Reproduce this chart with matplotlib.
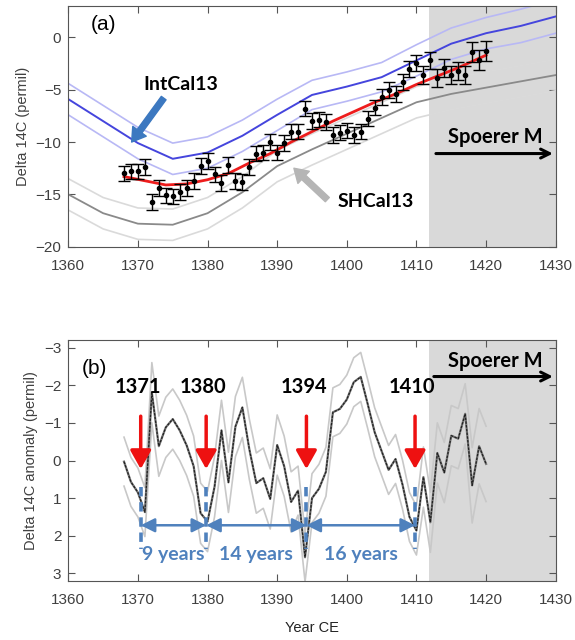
import numpy as np
import matplotlib
matplotlib.use("Agg")
import matplotlib.pyplot as plt

# --- DATA: panel (a) ---
cal_years = [1360, 1365, 1370, 1375, 1380, 1385, 1390, 1395, 1400, 1405, 1410, 1415, 1420, 1425, 1430]
intcal = [-5.9, -8.0, -10.1, -11.6, -11.0, -9.4, -7.4, -5.5, -4.7, -3.8, -2.2, -0.6, 0.4, 1.1, 2.0]
intcal_sig = [1.5, 1.5, 1.5, 1.5, 1.5, 1.5, 1.5, 1.4, 1.4, 1.4, 1.5, 1.5, 1.5, 1.6, 1.6]
shcal = [-15.0, -16.8, -17.8, -17.9, -16.8, -14.8, -12.3, -10.7, -9.2, -7.7, -6.2, -5.4, -4.8, -4.2, -3.6]
shcal_sig = [1.5, 1.5, 1.5, 1.5, 1.5, 1.5, 1.5, 1.5, 1.5, 1.5, 1.5, 1.5, 1.5, 1.5, 1.5]

fit_years = [1368, 1371, 1374, 1377, 1380, 1383, 1386, 1389, 1392, 1395, 1398, 1401, 1404, 1407, 1410, 1413, 1416, 1420]
fit_vals = [-13.3, -13.7, -14.1, -14.0, -13.6, -13.0, -12.0, -11.1, -10.0, -9.0, -8.0, -7.1, -6.2, -5.4, -4.5, -3.7, -2.9, -1.7]

years = list(range(1368, 1421))
d14c = [-13.0, -12.8, -12.8, -12.4, -15.7, -14.4, -15.1, -15.2, -14.8, -14.4,
        -13.7, -12.3, -11.8, -13.1, -13.9, -12.2, -13.7, -13.8, -12.4, -11.1,
        -11.0, -10.0, -11.0, -10.1, -9.0, -9.0, -6.8, -8.0, -7.85, -8.1,
        -9.3, -9.1, -8.9, -9.3, -9.0, -7.75, -6.7, -5.7, -5.0, -5.4,
        -4.25, -3.0, -2.45, -3.6, -2.2, -3.9, -2.9, -3.6, -3.2, -3.6,
        -1.4, -2.2, -1.3]
d14c_err = [0.75] * 43 + [0.85] * 7 + [0.95] * 3

# --- DATA: panel (b) ---
anom = [0.03, 0.57, 0.85, 1.37, -1.8, -0.38, -0.88, -1.1, -0.8, -0.4,
        0.15, 1.4, 1.62, 0.7, -0.8, 0.58, -0.9, -1.41, -0.3, 0.6,
        0.47, 1.02, -0.41, 0.15, 1.1, 0.8, 2.57, 1.0, 0.75, 0.3,
        -1.28, -1.37, -1.62, -2.08, -2.22, -1.5, -0.75, -0.25, 0.25, -0.04,
        0.64, 1.5, 1.86, 0.44, 1.64, -0.2, 0.32, -0.66, -0.58, -1.24,
        0.66, -0.38, 0.09]
anom_sig = ([0.65] * 4 + [0.8] * 21 + [0.65] * 18 + [0.8] * 7 + [1.0] * 3)

minima = [1370.4, 1379.8, 1394.2, 1409.8]
minima_labels = ["1371", "1380", "1394", "1410"]
gaps = ["9 years", "14 years", "16 years"]
spoerer_start = 1411.8

# --- STYLE ---
plt.rcParams['font.family'] = ['Liberation Sans', 'DejaVu Sans']
bold_font = ['Lato', 'DejaVu Sans']
tick_col = '#404040'
steel = '#4f81bd'
simple_arrow = 'simple,head_width=1.0,head_length=0.8,tail_width=0.35'

fig = plt.figure(figsize=(5.75, 6.4), dpi=100)
ax1 = fig.add_axes([68.3/575, 1-246.7/640, 487.4/575, 240.7/640])
ax2 = fig.add_axes([68.3/575, 1-581/640, 487.4/575, 241/640])

for ax in (ax1, ax2):
    ax.axvspan(spoerer_start, 1430, color='#d9d9d9', zorder=0, lw=0)
    ax.set_xlim(1360, 1430)
    ax.set_xticks(range(1360, 1431, 10))
    ax.tick_params(direction='in', top=True, right=True, length=5,
                   labelsize=11, colors='#555555', labelcolor=tick_col)
    ax.tick_params(axis='x', pad=9)
    ax.tick_params(axis='y', pad=5)
    for s in ax.spines.values():
        s.set_color('#555555')

# --- PANEL (a) ---
cy = np.array(cal_years)
ic = np.array(intcal); ics = np.array(intcal_sig)
sh = np.array(shcal); shs = np.array(shcal_sig)
ax1.plot(cy, ic + ics, color='#b8b8f5', lw=1.2)
ax1.plot(cy, ic - ics, color='#b8b8f5', lw=1.2)
ax1.plot(cy, ic, color='#4545dd', lw=1.4)
ax1.plot(cy, sh + shs, color='#dadada', lw=1.2)
ax1.plot(cy, sh - shs, color='#dadada', lw=1.2)
ax1.plot(cy, sh, color='#8a8a8a', lw=1.3)
ax1.plot(fit_years, fit_vals, color='#ee1c1c', lw=2, zorder=3)
ax1.errorbar(years, d14c, yerr=d14c_err, fmt='o', color='black', ms=3,
             capsize=4.5, elinewidth=1, capthick=1, zorder=4)

ax1.set_ylim(-20, 3)
ax1.set_yticks([0, -5, -10, -15, -20])
ax1.set_ylabel('Delta 14C (permil)', fontsize=10.5, color=tick_col)

ax1.text(1363.2, 0.7, '(a)', fontsize=15, color='black')
ax1.text(1376.1, -4.5, 'IntCal13', fontsize=14, fontweight='bold', family=bold_font,
         ha='center', va='center')
ax1.annotate('', xy=(1369.1, -10.0), xytext=(1373.7, -5.8),
             arrowprops=dict(arrowstyle=simple_arrow, color='#3c78c0',
                             shrinkA=0, shrinkB=0, mutation_scale=12))
ax1.text(1404.1, -15.7, 'SHCal13', fontsize=14, fontweight='bold', family=bold_font,
         ha='center', va='center')
ax1.annotate('', xy=(1392.4, -12.5), xytext=(1397.2, -15.5),
             arrowprops=dict(arrowstyle=simple_arrow, color='#b5b5b5',
                             shrinkA=0, shrinkB=0, mutation_scale=12))
ax1.text(1421.3, -9.5, 'Spoerer M', fontsize=14.5, fontweight='bold', family=bold_font,
         ha='center', va='center')
ax1.annotate('', xy=(1430, -11.1), xytext=(1412.4, -11.1),
             arrowprops=dict(arrowstyle='->', color='black', lw=2.2, mutation_scale=16),
             annotation_clip=False)

# --- PANEL (b) ---
an = np.array(anom); ans = np.array(anom_sig)
ax2.plot(years, an + ans, color='#c8c8c8', lw=1.2)
ax2.plot(years, an - ans, color='#c8c8c8', lw=1.2)
ax2.plot(years, an, color='#777777', lw=1.6)
ax2.plot(years, an, color='#222222', lw=0.9, ls=(0, (2, 1)))

ax2.set_ylim(3.2, -3.2)
ax2.set_yticks([-3, -2, -1, 0, 1, 2, 3])
ax2.set_ylabel('Delta 14C anomaly (permil)', fontsize=10.5, color=tick_col)
ax2.set_xlabel('Year CE', fontsize=10.5, color='#222222', labelpad=10)

ax2.text(1362.0, -2.3, '(b)', fontsize=15, color='black')

for x, lab in zip(minima, minima_labels):
    ax2.text(x - 0.4, -1.95, lab, fontsize=14.5, fontweight='bold', family=bold_font,
             ha='center', va='center')
    ax2.annotate('', xy=(x, 0.3), xytext=(x, -1.25),
                 arrowprops=dict(arrowstyle='-|>,head_width=0.45,head_length=0.8',
                                 color='#ee1111', lw=2.5, mutation_scale=14))
    ax2.plot([x, x], [0.7, 2.35], color=steel, lw=2.6, ls=(0, (2.6, 1.6)))

for i, lab in enumerate(gaps):
    x0, x1 = minima[i], minima[i + 1]
    ax2.annotate('', xy=(x1, 1.72), xytext=(x0, 1.72),
                 arrowprops=dict(arrowstyle='<|-|>,head_width=0.35,head_length=0.7',
                                 color=steel, lw=1.8, mutation_scale=12,
                                 shrinkA=0, shrinkB=0))
    ax2.text((x0 + x1) / 2, 2.5, lab, fontsize=14, fontweight='bold', family=bold_font,
             color=steel, ha='center', va='center')

ax2.text(1421.3, -2.65, 'Spoerer M', fontsize=14.5, fontweight='bold', family=bold_font,
         ha='center', va='center')
ax2.annotate('', xy=(1430, -2.23), xytext=(1412.1, -2.23),
             arrowprops=dict(arrowstyle='->', color='black', lw=2.2, mutation_scale=16),
             annotation_clip=False)

fig.savefig('out.png', dpi=100)
